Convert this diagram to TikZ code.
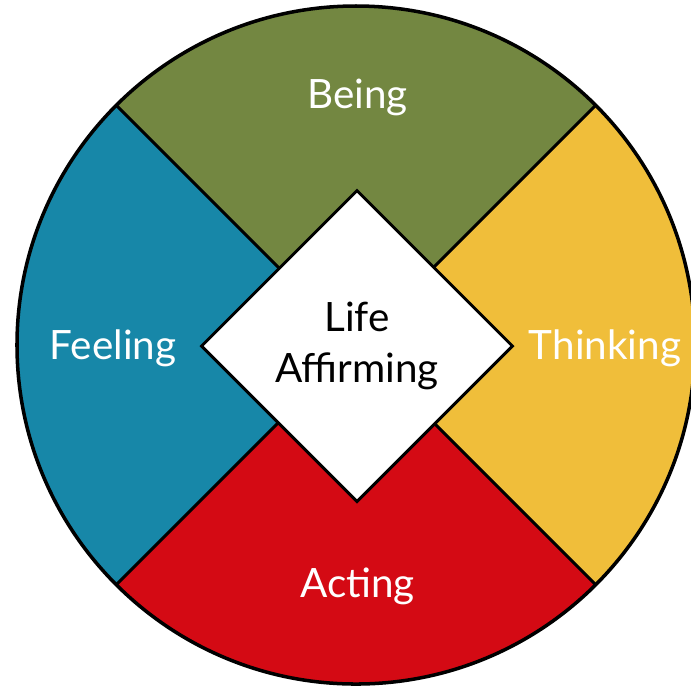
\documentclass[tikz,border=0pt]{standalone}
\usepackage{fontspec}
\setmainfont{Lato}
\usepackage{xcolor}
\usepackage{tikz}
\usetikzlibrary{shapes.geometric, positioning, calc}

\definecolor{beinggreen}{RGB}{115,135,65}
\definecolor{feelingblue}{RGB}{23,135,168}
\definecolor{thinkingyellow}{RGB}{240,190,58}
\definecolor{actingred}{RGB}{212,10,20}

\tikzset{
  quadlabel/.style={anchor=base, text=white, font=\fontsize{11.5}{14.5}\selectfont},
  centrebox/.style={diamond, draw, fill=white, line width=0.85pt, inner sep=0pt,
    minimum width=3.12cm, minimum height=3.12cm, align=center,
    font=\fontsize{11.5}{14.5}\selectfont}
}

\begin{document}
\begin{tikzpicture}
    \useasboundingbox (-3.56,-3.41) rectangle (3.35,3.45);

    % Quadrants
    \fill[beinggreen] (0,0) -- (135:3.39) arc (135:45:3.39) -- cycle;
    \fill[thinkingyellow] (0,0) -- (45:3.39) arc (45:-45:3.39) -- cycle;
    \fill[actingred] (0,0) -- (-45:3.39) arc (-45:-135:3.39) -- cycle;
    \fill[feelingblue] (0,0) -- (-135:3.39) arc (-135:-225:3.39) -- cycle;

    % Dividers & rim
    \draw[line width=0.85pt] (135:3.39) -- (-45:3.39);
    \draw[line width=0.85pt] (45:3.39) -- (-135:3.39);
    \draw[line width=1pt] (0,0) circle (3.39);

    % Centre
    \node[centrebox] (life) at (0.01,-0.01) {Life\\Affirming};

    % Labels
    \node[quadlabel] (being) at (0.015,2.37) {Being};
    \node[quadlabel] (thinking) at (2.49,-0.14) {Thinking};
    \node[quadlabel] (acting) at (0.015,-2.52) {Acting};
    \node[quadlabel] (feeling) at (-2.43,-0.14) {Feeling};
\end{tikzpicture}
\end{document}
